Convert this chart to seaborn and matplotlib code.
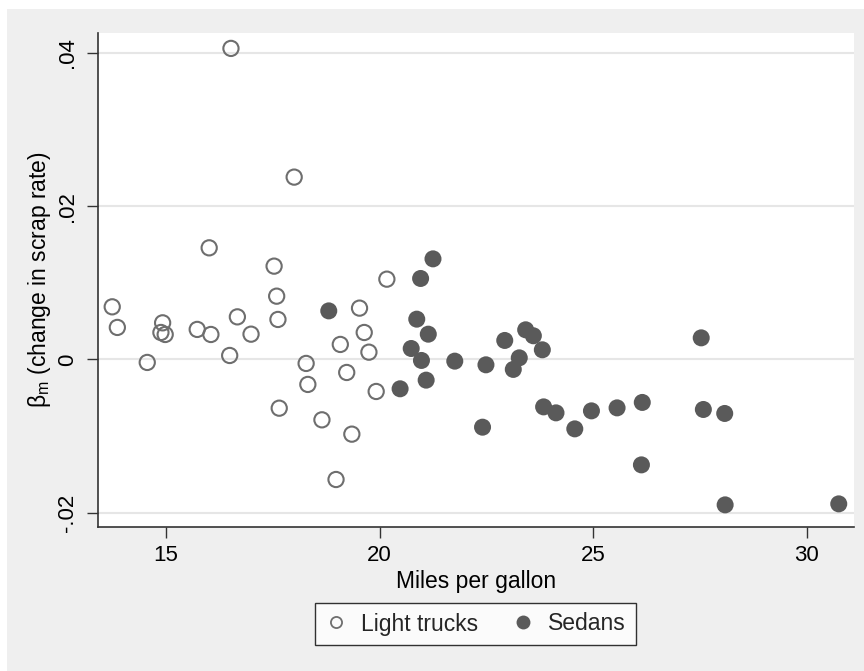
import matplotlib
matplotlib.use("Agg")
import matplotlib.pyplot as plt
from matplotlib.lines import Line2D
from matplotlib.patches import Rectangle
import seaborn as sns
import pandas as pd

# Miles per gallon and estimated scrap-rate effect, by vehicle class
truck_mpg = [16.52, 18.00, 16.01, 17.53, 20.17, 17.59, 13.74, 13.86, 14.92, 14.88,
             14.98, 15.73, 16.05, 14.56, 16.67, 16.99, 16.49, 17.62, 17.65, 18.28,
             18.32, 19.53, 19.64, 19.08, 19.75, 19.23, 19.92, 18.65, 19.35, 18.98]
truck_beta = [0.0406, 0.0238, 0.01457, 0.01218, 0.01048, 0.00826, 0.00687, 0.00418, 0.00478, 0.00352,
              0.00326, 0.00392, 0.00326, -0.00039, 0.00556, 0.00330, 0.00052, 0.00522, -0.00636, -0.00052,
              -0.00326, 0.00670, 0.00352, 0.00196, 0.00095, -0.00170, -0.00418, -0.00788, -0.00975, -0.01567]

sedan_mpg = [18.81, 21.25, 20.96, 20.87, 21.14, 20.74, 20.98, 21.09, 20.48, 21.76,
             22.49, 22.41, 22.93, 23.42, 23.60, 23.27, 23.13, 23.81, 23.84, 24.13,
             24.57, 24.96, 25.56, 26.15, 26.13, 27.53, 27.58, 28.08, 28.09, 30.75]
sedan_beta = [0.00634, 0.01313, 0.01057, 0.00526, 0.00330, 0.00143, -0.00013, -0.00270, -0.00383, -0.00022,
              -0.00070, -0.00884, 0.00248, 0.00387, 0.00309, 0.00021, -0.00130, 0.00126, -0.00619, -0.00697,
              -0.00906, -0.00671, -0.00632, -0.00561, -0.01376, 0.00282, -0.00653, -0.00705, -0.01898, -0.01885]

y_ticks = [-0.02, 0.0, 0.02, 0.04]
y_tick_labels = ["-.02", "0", ".02", ".04"]
x_ticks = [15, 20, 25, 30]
legend_labels = ["Light trucks", "Sedans"]

trucks = pd.DataFrame({"mpg": truck_mpg, "beta": truck_beta})
sedans = pd.DataFrame({"mpg": sedan_mpg, "beta": sedan_beta})

sns.set_theme(style="white")
plt.rcParams["font.family"] = ["Liberation Sans", "DejaVu Sans"]
plt.rcParams["mathtext.fontset"] = "custom"
plt.rcParams["mathtext.rm"] = "Liberation Sans"

BG = "#efefef"
OPEN_EDGE = "#6e6e6e"
FILLED = "#5a5a5a"
FS = 16.5

fig = plt.figure(figsize=(8.64, 6.71), dpi=100)
fig.patch.set_facecolor("white")
fig.patches.append(Rectangle((7 / 864, 0), 1 - 7 / 864, 1 - 9 / 671,
                             transform=fig.transFigure, facecolor=BG,
                             edgecolor="none", zorder=-10))

ax = fig.add_axes([97.7 / 864, 1 - 526.7 / 671, (853.7 - 97.7) / 864, (526.7 - 32.7) / 671])
ax.set_facecolor("white")

sns.scatterplot(data=trucks, x="mpg", y="beta", ax=ax, marker="o", s=120,
                facecolor="none", edgecolor=OPEN_EDGE, linewidth=1.5, zorder=3)
sns.scatterplot(data=sedans, x="mpg", y="beta", ax=ax, marker="o", s=150,
                color=FILLED, edgecolor="none", linewidth=0, zorder=3)

ax.set_xlim(13.4, 31.1)
ax.set_ylim(-0.02183, 0.04265)

ax.set_yticks(y_ticks)
ax.set_yticklabels(y_tick_labels, rotation=90, va="center")
ax.set_xticks(x_ticks)
ax.set_xticklabels([str(t) for t in x_ticks])

ax.yaxis.grid(True, color="#e6e6e6", linewidth=1.5)
ax.xaxis.grid(False)
ax.set_axisbelow(True)

for side in ["top", "right"]:
    ax.spines[side].set_visible(False)
for side in ["left", "bottom"]:
    ax.spines[side].set_color("#333333")
    ax.spines[side].set_linewidth(1.2)

ax.tick_params(axis="both", which="major", direction="out", length=8, width=1,
               color="#333333", labelsize=16, labelcolor="black", pad=5,
               left=True, bottom=True)
ax.tick_params(axis="y", pad=6)

ax.set_xlabel("Miles per gallon", fontsize=FS, color="black", labelpad=3)
ax.set_ylabel(r"β$_\mathregular{m}$ (change in scrap rate)", fontsize=FS,
              color="black", labelpad=3)

handles = [
    Line2D([], [], linestyle="none", marker="o", markersize=8,
           markerfacecolor="none", markeredgecolor=OPEN_EDGE, markeredgewidth=1.3),
    Line2D([], [], linestyle="none", marker="o", markersize=10,
           markerfacecolor=FILLED, markeredgecolor="none"),
]
leg = fig.legend(handles, legend_labels, loc="center",
                 bbox_to_anchor=(475.5 / 864, 1 - 624 / 671), ncol=2,
                 frameon=True, fancybox=False, edgecolor="black",
                 fontsize=FS, handletextpad=0.6, columnspacing=1.45,
                 borderpad=0.42, handlelength=1.0)
leg.get_frame().set_linewidth(1.0)
leg.get_frame().set_facecolor("white")

fig.savefig("out.png", dpi=100, facecolor=fig.get_facecolor())
